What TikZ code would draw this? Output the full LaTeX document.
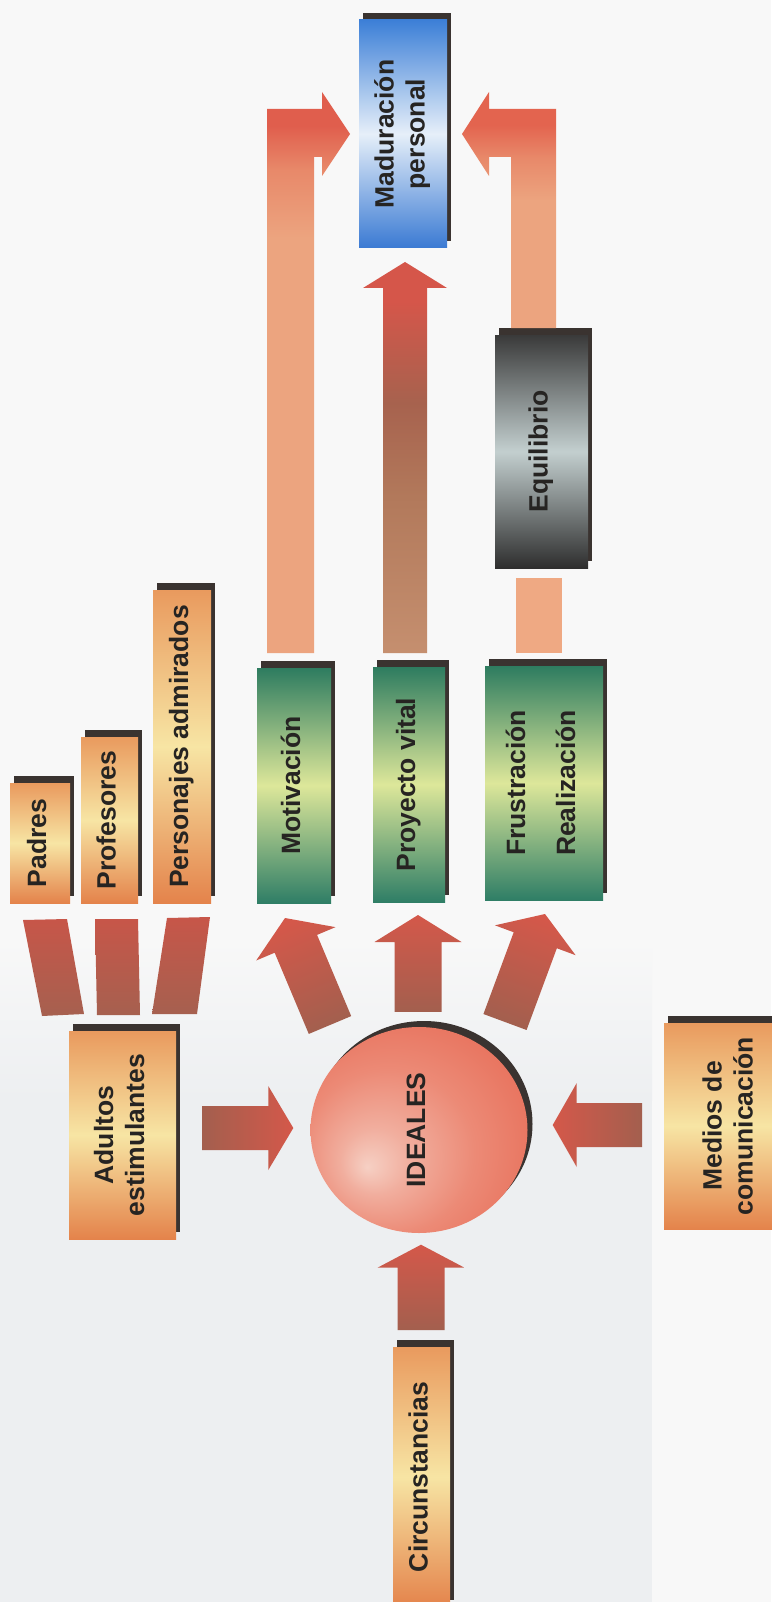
\documentclass[tikz,border=0pt]{standalone}
\usepackage{fontspec}
\setmainfont{Liberation Sans}
\usepackage{graphicx}
\usetikzlibrary{calc,shapes.geometric}
\pgfdeclarelayer{bg}
\pgfsetlayers{bg,main}

\definecolor{shad}{HTML}{3A3330}
\definecolor{orT}{HTML}{E99A5E}
\definecolor{orM}{HTML}{F7E5A4}
\definecolor{orB}{HTML}{E4834B}
\definecolor{gT}{HTML}{2E7C60}
\definecolor{gM}{HTML}{DDE79A}
\definecolor{gB}{HTML}{2F7E66}
\definecolor{bT}{HTML}{3C7FD7}
\definecolor{bM}{HTML}{E6EFF9}
\definecolor{bB}{HTML}{3A7AD3}
\definecolor{kT}{HTML}{3A3A3A}
\definecolor{kM}{HTML}{C3CFCF}
\definecolor{kB}{HTML}{2E2E2E}
\definecolor{aR}{HTML}{D4584A}
\definecolor{aB}{HTML}{A35F4E}
\definecolor{bR}{HTML}{C75649}
\definecolor{bBr}{HTML}{A6604F}
\definecolor{peach}{HTML}{ECA47F}
\definecolor{peachS}{HTML}{EFA983}
\definecolor{peachmid}{HTML}{E8896A}
\definecolor{lred}{HTML}{E05E4D}
\definecolor{lred2}{HTML}{E3644F}
\definecolor{tan}{HTML}{C58F6F}
\definecolor{tanmid}{HTML}{B2795B}
\definecolor{brn}{HTML}{A7624E}
\definecolor{mred}{HTML}{D5564A}
\definecolor{pk1}{HTML}{F6D0C4}
\definecolor{pk2}{HTML}{F1AE9E}
\definecolor{pk3}{HTML}{EC8A76}
\definecolor{pk4}{HTML}{E8735E}
\definecolor{txt}{HTML}{262422}
\definecolor{paper}{HTML}{F8F8F8}
\definecolor{texg}{HTML}{EDEFF1}

\pgfdeclareverticalshading{lshadeL}{100bp}{color(0bp)=(peach); color(62bp)=(peach); color(68bp)=(peachmid); color(72bp)=(lred); color(100bp)=(lred)}
\pgfdeclareverticalshading{rshadeL}{100bp}{color(0bp)=(peach); color(52bp)=(peach); color(61bp)=(peachmid); color(68bp)=(lred2); color(100bp)=(lred2)}
\pgfdeclareverticalshading{mshade}{100bp}{color(0bp)=(tan); color(25bp)=(tan); color(45bp)=(tanmid); color(57bp)=(brn); color(70bp)=(mred); color(100bp)=(mred)}
\pgfdeclareradialshading{ideal}{\pgfpoint{-12bp}{-9bp}}{color(0bp)=(pk1); color(8bp)=(pk2); color(20bp)=(pk3); color(32bp)=(pk4); color(50bp)=(pk4)}

\newcommand\lab{\fontsize{26.5}{31}\selectfont\bfseries}
\newcommand\rot[1]{\rotatebox{90}{\begin{tabular}{@{}c@{}}#1\end{tabular}}}
% block arrow: options, tail, tip, half shaft, half head, head length
\newcommand\barrow[6]{%
  \coordinate (hb) at ($(#3)!#6!(#2)$);
  \path[#1] ($(#2)!#4!90:(#3)$) -- ($(hb)!#4!90:(#3)$) -- ($(hb)!#5!90:(#3)$) -- (#3)
    -- ($(hb)!#5!-90:(#3)$) -- ($(hb)!#4!-90:(#3)$) -- ($(#2)!#4!-90:(#3)$) -- cycle;}
\newcommand\shadowof[1]{\fill[shad] ([shift={(4,-7)}]#1.south west) rectangle ([shift={(4,-7)}]#1.north east);}

\begin{document}
\begin{tikzpicture}[x=1pt,y=-1pt,
  box/.style={inner sep=0pt, outer sep=0pt, anchor=north west, text=txt, font=\lab},
  orbox/.style={box, top color=orT, bottom color=orB, middle color=orM},
  grbox/.style={box, top color=gT, bottom color=gB, middle color=gM},
  blbox/.style={box, top color=bT, bottom color=bB, middle color=bM},
  bkbox/.style={box, top color=kT, bottom color=kB, middle color=kM},
  arr/.style={top color=aR, bottom color=aB},
  bar/.style={top color=bR, bottom color=bBr}]
\useasboundingbox (0,0) rectangle (771,1602);
\begin{pgfonlayer}{bg}
  \fill[paper] (0,0) rectangle (771,1602);
  \shade[top color=paper, bottom color=texg] (0,940) rectangle (652,1100);
  \fill[texg] (0,1099) rectangle (652,1602);
\end{pgfonlayer}

% boxes
\node[blbox, minimum width=88, minimum height=228] (mad) at (359,20) {\rot{Maduración\\personal}};
\node[bkbox, minimum width=93, minimum height=233] (equi) at (495,335) {\rot{Equilibrio}};
\node[grbox, minimum width=74, minimum height=235] (moti) at (257,668) {\rot{Motivación}};
\node[grbox, minimum width=72, minimum height=235] (proy) at (373,667) {\rot{Proyecto vital}};
\node[grbox, minimum width=118, minimum height=234] (frus) at (485,666) {\rot{Frustración\\[19pt]Realización}};
\node[orbox, minimum width=60, minimum height=120] (padres) at (10,783) {\rot{Padres}};
\node[orbox, minimum width=57, minimum height=166] (prof) at (81,737) {\rot{Profesores}};
\node[orbox, minimum width=58, minimum height=313] (pers) at (153,590) {\rot{Personajes admirados}};
\node[orbox, minimum width=107, minimum height=208] (adul) at (69,1031) {\rot{Adultos\\estimulantes}};
\node[orbox, minimum width=134, minimum height=206] (medios) at (664,1023) {\rot{Medios de\\comunicación}};
\node[orbox, minimum width=57, minimum height=260] (circ) at (393,1347) {\rot{Circunstancias}};
\node[ellipse, shade, shading=ideal, inner sep=0pt, minimum width=217, minimum height=206,
      font=\lab, text=txt] (ideales) at (419,1130) {\rot{IDEALES}};

% shadows
\begin{pgfonlayer}{bg}
  \foreach \n in {mad,equi,moti,proy,frus,padres,prof,pers,adul,medios,circ} {\shadowof{\n}}
  \fill[shad] ([shift={(5,-6)}]ideales.center) ellipse [x radius=108.5pt, y radius=103pt];
\end{pgfonlayer}

% long L-shaped arrows to Maduracion personal
\path[shade, shading=lshadeL] (267,653) -- (267,109) -- (322,109) -- (322,92) -- (350,134)
  -- (322,176) -- (322,157) -- (314,157) -- (314,653) -- cycle;
\path[shade, shading=rshadeL] (556,328) -- (556,109) -- (489,109) -- (489,92) -- (462,134)
  -- (489,176) -- (489,157) -- (511,157) -- (511,328) -- cycle;

% middle tall arrow
\coordinate (t7) at ($(proy.north)+(-4,-14)$);
\coordinate (h7) at ($(mad.south)+(2,14)$);
\barrow{shade, shading=mshade}{t7}{h7}{22pt}{42pt}{26pt}

% link Frustracion -> Equilibrio
\fill[peachS] ($(equi.south)+(-25.5,10)$) rectangle ($(frus.north)+(18,-13)$);

% arrows from IDEALES
\coordinate (t1) at ($(ideales.center)+(-89,-105)$);
\coordinate (h1) at ($(moti.south)+(-9,15)$);
\barrow{arr, shading angle=23}{t1}{h1}{23pt}{43pt}{28pt}
\coordinate (t2) at ($(ideales.north)+(-1,-15)$);
\coordinate (h2) at ($(proy.south)+(9,13)$);
\barrow{arr}{t2}{h2}{23.5pt}{43.5pt}{27pt}
\coordinate (t3) at ($(ideales.center)+(86,-108)$);
\coordinate (h3) at ($(frus.south)+(1,14)$);
\barrow{arr, shading angle=-20}{t3}{h3}{23pt}{43pt}{28pt}

% arrows into IDEALES
\coordinate (t4) at ($(adul.east)+(26,-7)$);
\coordinate (h4) at ($(ideales.west)+(-17,-2)$);
\barrow{left color=aB, right color=aR}{t4}{h4}{22pt}{42pt}{25pt}
\coordinate (t5) at ($(medios.west)+(-22,-1)$);
\coordinate (h5) at ($(ideales.east)+(25,-5)$);
\barrow{left color=aR, right color=aB}{t5}{h5}{22pt}{42pt}{24pt}
\coordinate (t6) at ($(circ.north)+(-0.5,-17)$);
\coordinate (h6) at ($(ideales.south)+(2,11.5)$);
\barrow{arr}{t6}{h6}{23.5pt}{43.5pt}{23pt}

% converging bars into Adultos estimulantes
\path[bar] ($(padres.south)+(-17,17)$) -- ($(padres.south)+(27,16)$) -- ($(adul.north)+(-38.5,-17)$) -- ($(adul.north)+(-80.5,-15)$) -- cycle;
\path[bar] ($(prof.south)+(-14.5,16)$) -- ($(prof.south)+(28.5,16)$) -- ($(adul.north)+(17.5,-16)$) -- ($(adul.north)+(-25.5,-16)$) -- cycle;
\path[bar] ($(pers.south)+(-15,15)$) -- ($(pers.south)+(28,14)$) -- ($(adul.north)+(74.5,-17)$) -- ($(adul.north)+(29.5,-17)$) -- cycle;
\end{tikzpicture}
\end{document}
